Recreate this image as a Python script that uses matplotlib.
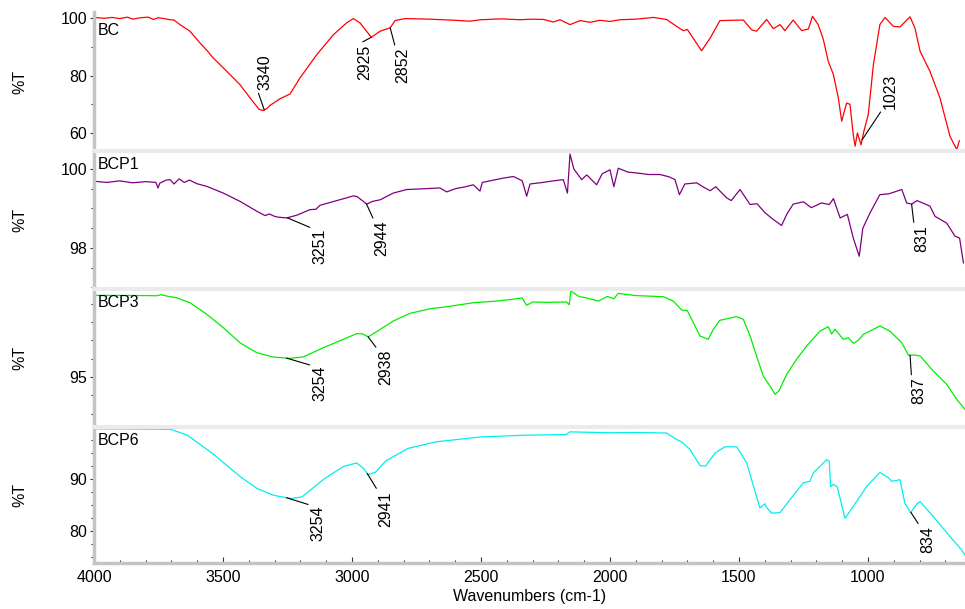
import matplotlib
matplotlib.use("Agg")
import matplotlib.pyplot as plt
import numpy as np
from matplotlib.ticker import MultipleLocator

plt.rcParams['font.family'] = ['Liberation Sans', 'DejaVu Sans']
plt.rcParams['font.size'] = 11.5

# ---- spectra (wavenumber, %T) ----
bc_wn = [4000, 3960, 3930, 3900, 3870, 3850, 3820, 3790, 3770, 3750, 3730, 3705, 3690,
         3667, 3628, 3589, 3560, 3538, 3486, 3434, 3395, 3360, 3345, 3330, 3318, 3279,
         3240, 3202, 3137, 3072, 3021, 2995, 2969, 2925, 2891, 2852, 2833, 2795, 2700,
         2600, 2543, 2500, 2420, 2349, 2300, 2258, 2220, 2194, 2155, 2116, 2077, 2039,
         2000, 1961, 1900, 1832, 1781, 1742, 1716, 1700, 1645, 1612, 1574, 1483, 1451,
         1432, 1393, 1367, 1341, 1322, 1290, 1257, 1231, 1215, 1193, 1173, 1154, 1134,
         1115, 1102, 1083, 1070, 1057, 1050, 1041, 1027, 1016, 999, 979, 954, 934, 902,
         876, 837, 818, 798, 760, 721, 682, 656, 646]
bc_t = [100.2, 99.9, 100.2, 99.8, 100.3, 99.6, 100.1, 100.3, 99.5, 100.1, 99.8, 99.4, 99.3,
        97.7, 95.4, 91.3, 88.5, 86.1, 81.5, 76.8, 72.2, 68.2, 67.8, 68.5, 69.6, 71.9,
        73.6, 79.1, 87.2, 94.2, 98.3, 99.8, 98.3, 93.3, 95.4, 96.6, 99.1, 99.8, 99.6,
        99.2, 98.9, 99.4, 99.7, 99.4, 99.6, 99.5, 98.6, 99.4, 97.7, 99.1, 98.5, 99.2,
        98.8, 99.4, 99.6, 100.2, 99.5, 97.1, 95.6, 96.0, 88.6, 93.0, 99.1, 99.3, 95.9,
        95.4, 99.5, 96.3, 97.7, 95.6, 99.3, 95.6, 96.2, 100.6, 97.7, 92.5, 84.9, 80.3,
        72.2, 64.1, 70.4, 70.0, 59.4, 55.4, 60.0, 55.9, 60.6, 66.4, 83.8, 97.7, 100.2, 97.1,
        96.9, 100.4, 96.5, 88.4, 81.5, 72.2, 58.8, 54.2, 57.3]

bcp1_wn = [4000, 3950, 3900, 3850, 3800, 3760, 3752, 3745, 3720, 3705, 3690, 3670, 3650,
           3630, 3602, 3563, 3499, 3434, 3369, 3337, 3320, 3300, 3286, 3253, 3214, 3163,
           3140, 3124, 3059, 3020, 2995, 2980, 2960, 2943, 2920, 2891, 2840, 2788, 2720,
           2659, 2633, 2600, 2560, 2530, 2504, 2495, 2450, 2413, 2374, 2340, 2323, 2310,
           2260, 2220, 2181, 2165, 2155, 2140, 2110, 2090, 2052, 2030, 2000, 1985, 1968,
           1930, 1897, 1850, 1806, 1770, 1748, 1731, 1710, 1664, 1640, 1612, 1590, 1548,
           1530, 1496, 1457, 1430, 1399, 1367, 1335, 1315, 1290, 1250, 1220, 1180, 1150,
           1134, 1108, 1080, 1057, 1034, 1020, 992, 954, 920, 869, 850, 831, 810, 760,
           740, 695, 663, 645, 630]
bcp1_t = [99.69, 99.66, 99.70, 99.65, 99.68, 99.66, 99.52, 99.64, 99.72, 99.73, 99.62, 99.75,
          99.66, 99.72, 99.63, 99.56, 99.39, 99.18, 98.93, 98.82, 98.86, 98.80, 98.78, 98.76,
          98.83, 98.97, 98.98, 99.08, 99.20, 99.27, 99.32, 99.30, 99.20, 99.11, 99.18, 99.22,
          99.39, 99.48, 99.50, 99.52, 99.42, 99.50, 99.55, 99.60, 99.44, 99.66, 99.72, 99.77,
          99.81, 99.70, 99.31, 99.62, 99.66, 99.70, 99.73, 99.39, 100.38, 100.0, 99.73, 99.85,
          99.60, 99.88, 99.98, 99.55, 100.02, 99.92, 99.90, 99.86, 99.86, 99.80, 99.73, 99.35,
          99.62, 99.65, 99.55, 99.45, 99.55, 99.27, 99.20, 99.48, 99.10, 99.12, 98.89, 98.72,
          98.57, 98.85, 99.11, 99.17, 99.02, 99.14, 99.10, 99.25, 98.76, 98.85, 98.25, 97.79,
          98.50, 98.89, 99.35, 99.37, 99.48, 99.14, 99.11, 99.20, 99.06, 98.80, 98.63, 98.30,
          98.25, 97.62]

bcp3_wn = [4000, 3900, 3800, 3757, 3740, 3710, 3679, 3628, 3563, 3499, 3434, 3369, 3305,
           3240, 3189, 3111, 3034, 2982, 2960, 2937, 2891, 2840, 2775, 2698, 2633, 2530,
           2439, 2362, 2340, 2323, 2300, 2250, 2168, 2158, 2152, 2120, 2090, 2045, 2010,
           1985, 1968, 1900, 1793, 1755, 1722, 1700, 1677, 1651, 1619, 1600, 1574, 1509,
           1483, 1457, 1432, 1406, 1380, 1360, 1345, 1315, 1277, 1238, 1186, 1154, 1141,
           1128, 1096, 1076, 1057, 1040, 1018, 954, 915, 869, 843, 820, 798, 747, 695,
           656, 624]
bcp3_t = [99.46, 99.46, 99.45, 99.44, 99.50, 99.40, 99.33, 99.06, 98.43, 97.70, 96.87, 96.33,
          96.09, 96.02, 96.10, 96.60, 97.06, 97.37, 97.36, 97.20, 97.60, 98.06, 98.48, 98.73,
          98.84, 99.06, 99.15, 99.28, 99.32, 98.92, 99.10, 99.08, 99.10, 98.95, 99.70, 99.40,
          99.32, 99.15, 99.40, 99.28, 99.57, 99.45, 99.39, 99.15, 98.66, 98.62, 97.97, 97.24,
          97.06, 97.60, 98.10, 98.30, 98.15, 97.24, 96.15, 95.05, 94.51, 94.05, 94.25, 95.15,
          95.97, 96.69, 97.51, 97.75, 97.35, 97.62, 97.06, 97.15, 96.84, 96.98, 97.33, 97.79,
          97.51, 96.87, 96.19, 96.20, 96.15, 95.33, 94.60, 93.78, 93.23]

bcp6_wn = [4000, 3800, 3702, 3637, 3540, 3431, 3367, 3302, 3237, 3194, 3107, 3031, 2982,
           2956, 2938, 2910, 2869, 2783, 2674, 2501, 2328, 2170, 2155, 2000, 1900, 1781,
           1742, 1723, 1690, 1651, 1630, 1593, 1555, 1509, 1470, 1419, 1400, 1393, 1374,
           1341, 1302, 1251, 1225, 1212, 1160, 1150, 1145, 1134, 1119, 1089, 1057, 1005,
           954, 921, 908, 876, 857, 835, 810, 798, 747, 682, 643, 624]
bcp6_t = [99.55, 99.50, 99.45, 98.30, 94.80, 90.30, 88.10, 86.80, 86.20, 86.50, 90.00, 92.40,
          93.00, 92.00, 90.80, 91.20, 93.40, 95.80, 97.06, 98.00, 98.33, 98.45, 98.97, 98.80,
          98.85, 98.75, 97.50, 97.06, 95.60, 92.50, 92.40, 94.90, 96.10, 96.10, 93.00, 84.40,
          85.20, 84.50, 83.40, 83.50, 86.00, 89.20, 89.50, 91.10, 93.65, 93.30, 88.50, 88.90,
          88.40, 82.40, 84.70, 88.50, 91.20, 90.20, 89.50, 89.80, 85.30, 83.50, 85.20, 85.60,
          82.75, 78.90, 76.70, 75.40]

names = ['BC', 'BCP1', 'BCP3', 'BCP6']
colors = ['#ff0000', '#800080', '#00ee00', '#00eeee']
series = [(bc_wn, bc_t), (bcp1_wn, bcp1_t), (bcp3_wn, bcp3_t), (bcp6_wn, bcp6_t)]

# peak labels per panel: (label, dx, dy in points, va)
peaks = [
    [('3340', 0.5, 14, 'bottom'), ('2925', -4.6, -5.3, 'top'),
     ('2852', 9.2, -14.4, 'top'), ('1023', 20.1, 22.1, 'bottom')],
    [('3251', 23.6, -7.7, 'top'), ('2944', 11, -12.2, 'top'), ('831', 7.2, -15.1, 'top')],
    [('3254', 24.1, -5.5, 'top'), ('2938', 12.6, -9.6, 'top'), ('837', 6.5, -16.1, 'top')],
    [('3254', 23, -5.5, 'top'), ('2941', 13.2, -12.7, 'top'), ('834', 12, -10.1, 'top')],
]

W, H = 965, 609
tops = [12, 151, 289, 427]
bots = [151, 289, 427, 563]
ylims = [(53.74, 102.09), (96.96, 100.456), (92.27, 99.81), (73.85, 99.9)]
ymajor = [20, 2, 5, 10]
yminor = [10, 0.5, 1, 2.5]
label_y = [0.92, 0.955, 0.955, 0.955]

fig = plt.figure(figsize=(9.65, 6.09), dpi=100)
spine_col = '#c4c4c4'

for i in range(4):
    ax = fig.add_axes([94 / W, 1 - bots[i] / H, (W - 94) / W, (bots[i] - tops[i]) / H])
    wn, t = series[i]
    ax.plot(wn, t, color=colors[i], lw=0.9)
    ax.set_xlim(4000, 624)
    ax.set_ylim(*ylims[i])
    ax.yaxis.set_major_locator(MultipleLocator(ymajor[i]))
    ax.yaxis.set_minor_locator(MultipleLocator(yminor[i]))
    ax.xaxis.set_major_locator(MultipleLocator(500))
    ax.xaxis.set_minor_locator(MultipleLocator(100))
    ax.tick_params(axis='y', which='both', direction='out', length=2.5, width=0.8,
                   color='#333333', pad=2)
    ax.tick_params(axis='y', which='major', length=3)

    for s in ['right', 'bottom', 'top']:
        ax.spines[s].set_visible(False)
    ax.spines['left'].set_color(spine_col)
    ax.spines['left'].set_linewidth(2.5)
    if i > 0:
        ax.spines['top'].set_visible(True)
        ax.spines['top'].set_color('#ebebeb')
        ax.spines['top'].set_linewidth(3)

    if i == 3:
        ax.spines['bottom'].set_visible(True)
        ax.spines['bottom'].set_color(spine_col)
        ax.spines['bottom'].set_linewidth(2.5)
        ax.tick_params(axis='x', which='both', direction='in', width=0.8,
                       color='#333333', pad=5)
        ax.tick_params(axis='x', which='major', length=4)
        ax.tick_params(axis='x', which='minor', length=2.5)
        ax.set_xlabel('Wavenumbers (cm-1)', labelpad=3)
    else:
        ax.tick_params(axis='x', which='both', bottom=False, labelbottom=False)

    ax.set_ylabel('%T')
    ax.yaxis.set_label_coords(-0.076, 0.5)
    ax.text(0.004, label_y[i], names[i], transform=ax.transAxes, va='top', ha='left')

    for lab, dx, dy, va in peaks[i]:
        x0 = float(lab)
        y0 = np.interp(x0, wn[::-1], t[::-1])
        rp = (0, 0) if va == 'bottom' else (0, 1)
        ax.annotate(lab, xy=(x0, y0), xytext=(dx, dy), textcoords='offset points',
                    rotation=90, ha='center', va=va,
                    arrowprops=dict(arrowstyle='-', color='k', lw=0.8,
                                    shrinkA=0, shrinkB=0, relpos=rp))

fig.savefig('out.png', dpi=100)
